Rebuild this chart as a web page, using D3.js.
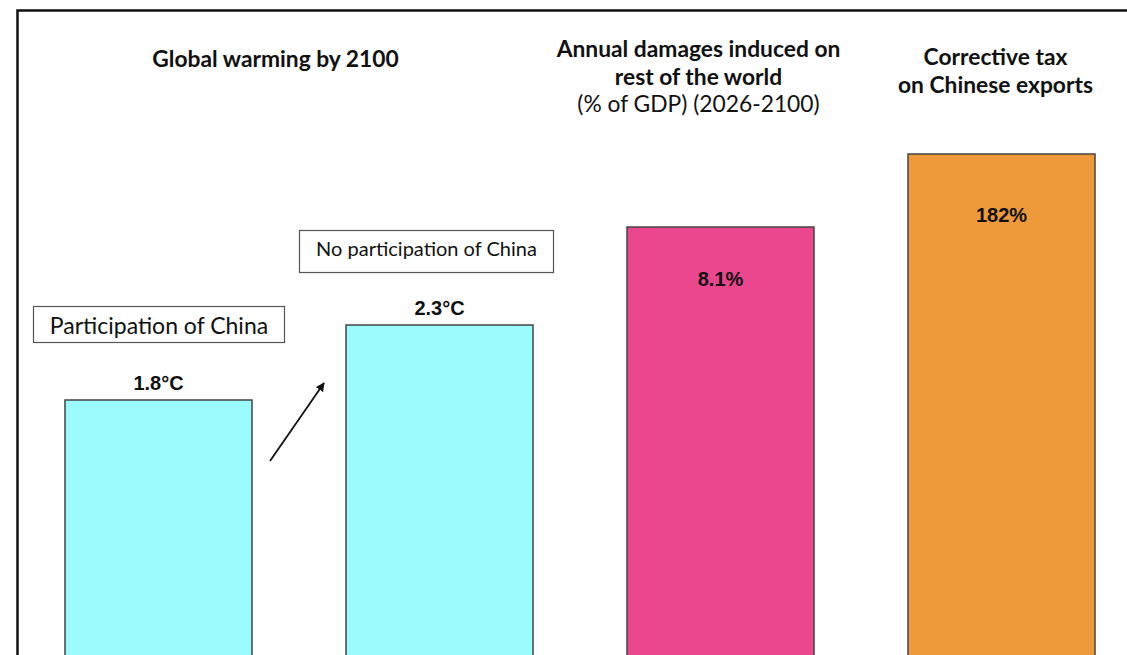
<!DOCTYPE html>
<html><head><meta charset="utf-8">
<script src="https://cdn.jsdelivr.net/npm/d3@7"></script>
<style>html,body{margin:0;padding:0;background:#fff;overflow:hidden}</style>
</head><body>
<svg id="c" width="1127" height="655"></svg>
<script>
// Data
const categories = ["Participation of China", "No participation of China", "Annual damages", "Corrective tax"];
const panels = ["warming", "warming", "damages", "tax"];
const values = [1.8, 2.3, 8.1, 182];
const valueLabels = ["1.8°C", "2.3°C", "8.1%", "182%"];
const colors = ["#9CFBFD", "#9CFBFD", "#EB478F", "#EF9A3A"];
const scenarioLabels = ["Participation of China", "No participation of China"];

// label offsets from bar top (style)
const labelDy = [-10, -10, 59, 68];

const svg = d3.select("#c");
const W = 1127, H = 655;

// frame
svg.append("path").attr("d", `M17.5,${H+5} L17.5,10.5 L${W+5},10.5`)
  .attr("fill", "none").attr("stroke", "#111").attr("stroke-width", 2.5);

const x = d3.scaleBand().domain(d3.range(categories.length)).range([65, 1095]).paddingInner(94 / 281).paddingOuter(0);
const baseY = 670;
// separate value scale per panel (different units)
const yScales = {
  warming: d3.scaleLinear().domain([0, 2.3]).range([baseY, 325]),
  damages: d3.scaleLinear().domain([0, 8.1]).range([baseY, 227]),
  tax: d3.scaleLinear().domain([0, 182]).range([baseY, 154])
};

const g = svg.append("g");
g.selectAll("rect.bar").data(values).join("rect").attr("class", "bar")
  .attr("x", (d, i) => x(i))
  .attr("width", x.bandwidth())
  .attr("y", (d, i) => yScales[panels[i]](d))
  .attr("height", (d, i) => baseY - yScales[panels[i]](d))
  .attr("fill", (d, i) => colors[i])
  .attr("stroke", "#444").attr("stroke-width", 1.5);

g.selectAll("text.val").data(values).join("text").attr("class", "val")
  .attr("x", (d, i) => x(i) + x.bandwidth() / 2)
  .attr("y", (d, i) => yScales[panels[i]](d) + labelDy[i])
  .attr("text-anchor", "middle")
  .attr("font-family", "Liberation Sans, Arial, sans-serif")
  .attr("font-weight", "bold").attr("font-size", 20)
  .attr("fill", "#111")
  .text((d, i) => valueLabels[i]);

// titles
const titleFont = "Lato, sans-serif";
function title(lines, cx, y0) {
  const t = svg.append("text").attr("text-anchor", "middle").attr("font-family", titleFont).attr("font-size", 22.8).attr("fill", "#111");
  lines.forEach((l, k) => {
    t.append("tspan").attr("x", cx).attr("y", y0 + k * 27.5).attr("font-weight", l.b ? "bold" : "normal").text(l.t);
  });
}
title([{t: "Global warming by 2100", b: true}], 275.5, 67);
title([{t: "Annual damages induced on", b: true}, {t: "rest of the world", b: true}, {t: "(% of GDP) (2026-2100)", b: false}], 698.5, 57);
title([{t: "Corrective tax", b: true}, {t: "on Chinese exports", b: true}], 995.5, 65);

// scenario boxes
const boxes = [
  {x0: 33, y0: 306, w: 251, h: 36, fs: 23, dy: 1},
  {x0: 299, y0: 230, w: 254, h: 42, fs: 20, dy: -3}
];
scenarioLabels.forEach((s, i) => {
  const b = boxes[i];
  svg.append("rect").attr("x", b.x0 + 0.5).attr("y", b.y0 + 0.5).attr("width", b.w).attr("height", b.h)
    .attr("fill", "#fff").attr("stroke", "#555").attr("stroke-width", 1.2);
  svg.append("text").attr("x", b.x0 + b.w / 2 + 0.5).attr("y", b.y0 + b.h / 2 + 0.5 + b.dy).attr("dy", "0.35em")
    .attr("text-anchor", "middle").attr("font-family", titleFont).attr("font-size", b.fs).attr("fill", "#111").text(s);
});

// arrow
const defs = svg.append("defs");
defs.append("marker").attr("id", "ah").attr("viewBox", "0 0 10 10").attr("refX", 9).attr("refY", 5)
  .attr("markerWidth", 5).attr("markerHeight", 5).attr("orient", "auto")
  .append("path").attr("d", "M0,0 L10,5 L0,10 Z").attr("fill", "#111");
svg.append("line").attr("x1", 270).attr("y1", 461).attr("x2", 324).attr("y2", 383)
  .attr("stroke", "#111").attr("stroke-width", 1.8).attr("marker-end", "url(#ah)");
</script>
</body></html>
